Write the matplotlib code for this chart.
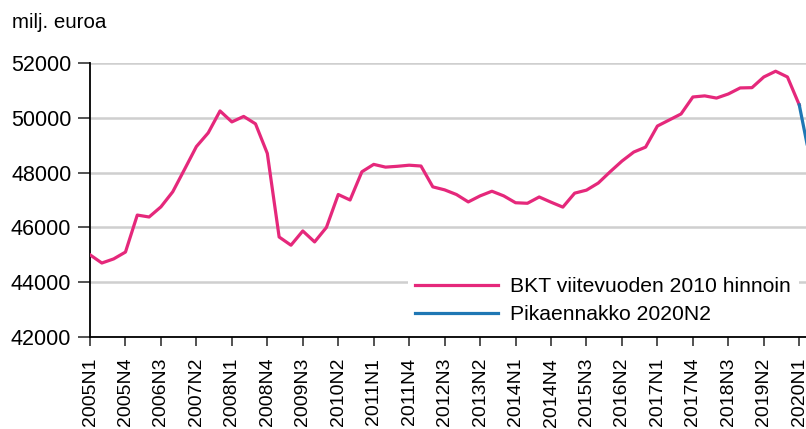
import matplotlib
matplotlib.use("Agg")
import matplotlib.pyplot as plt

plt.rcParams["font.family"] = ["Liberation Sans", "DejaVu Sans"]

# ==========================
# DATA (milj. euroa, quarterly 2005N1 .. 2020N1)
# ==========================

quarters = [f"{y}N{q}" for y in range(2005, 2021) for q in range(1, 5)][:62]

gdp = [
    45000, 44700, 44850, 45100, 46450, 46380, 46750, 47300,
    48120, 48950, 49450, 50250, 49850, 50050, 49780, 48700,
    45650, 45350, 45870, 45470, 46000, 47200, 47000, 48030,
    48300, 48200, 48230, 48270, 48240, 47480, 47370, 47200,
    46930, 47150, 47320, 47150, 46900, 46880, 47110, 46920,
    46740, 47250, 47360, 47620, 48030, 48420, 48750, 48930,
    49700, 49920, 50140, 50760, 50800, 50720, 50870, 51090,
    51100, 51490, 51700, 51490, 50470,
]

flash_q = ["2020N1", "2020N2"]
flash = [50470, 48300]

label_gdp = "BKT viitevuoden 2010 hinnoin"
label_flash = "Pikaennakko 2020N2"
y_ticks = [42000, 44000, 46000, 48000, 50000, 52000]

# ==========================
# PLOT
# ==========================

fig = plt.figure(figsize=(8.06, 4.29), dpi=100)
ax = fig.add_axes([90 / 806, 92 / 429, 716 / 806, 274 / 429])

x_gdp = [quarters.index(q) for q in quarters[:len(gdp)]]
x_flash = [quarters.index(q) for q in flash_q]

ax.plot(x_gdp, gdp, color="#e5287b", lw=2.3, label=label_gdp, zorder=3)
ax.plot(x_flash, flash, color="#1f77b4", lw=2.3, label=label_flash, zorder=3)

ax.set_ylim(42000, 52000)
ax.set_xlim(0, 60.57)
ax.set_yticks(y_ticks)
ax.set_yticklabels([str(v) for v in y_ticks], fontsize=15.5)

tick_pos = list(range(0, 61, 3))
ax.set_xticks(tick_pos)
ax.set_xticklabels([quarters[i] for i in tick_pos], rotation=90, fontsize=14)

ax.grid(axis="y", color="#cfcfcf", lw=1.8, zorder=0)
ax.set_axisbelow(True)
for s in ["top", "right"]:
    ax.spines[s].set_visible(False)
ax.spines["left"].set_linewidth(1.3)
ax.spines["bottom"].set_linewidth(1.3)
ax.tick_params(axis="both", direction="out", width=1.3, color="#444444")
ax.tick_params(axis="x", length=6.5, pad=8.5)
ax.tick_params(axis="y", length=8.5, pad=5)

fig.text(12 / 806, 1 - 23 / 429, "milj. euroa", fontsize=14.8, va="center", ha="left")

leg = ax.legend(loc="upper left", bbox_to_anchor=(408 / 806, 1 - 270 / 429),
                bbox_transform=fig.transFigure, frameon=True, fancybox=False,
                edgecolor="none", facecolor="white", framealpha=1,
                fontsize=15.2, handlelength=3.9, handletextpad=0.6,
                borderaxespad=0, borderpad=0.35, labelspacing=0.42)

fig.savefig("out.png", dpi=100)
